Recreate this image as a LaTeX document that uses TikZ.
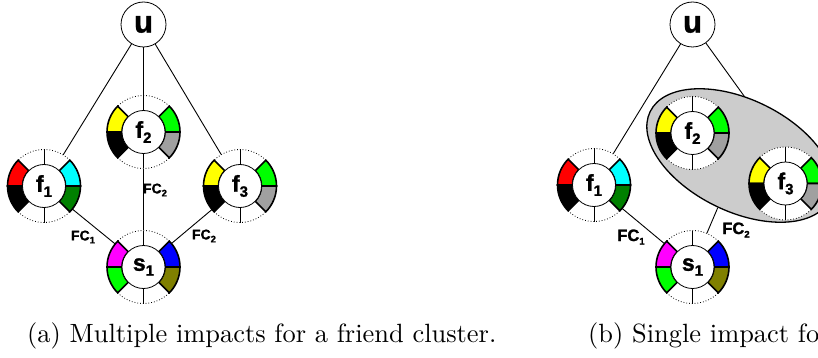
\documentclass[tikz,border=0pt]{standalone}
\usepackage{fontspec}
\usetikzlibrary{shapes.geometric}
\newfontfamily\lblfont{Liberation Sans}[BoldFeatures={FakeBold=1.3}]

\definecolor{segred}{RGB}{255,0,0}
\definecolor{segcyan}{RGB}{0,255,255}
\definecolor{segdkgreen}{RGB}{0,128,0}
\definecolor{segyellow}{RGB}{255,255,0}
\definecolor{seggreen}{RGB}{0,255,0}
\definecolor{seggray}{RGB}{160,160,160}
\definecolor{segmagenta}{RGB}{255,0,255}
\definecolor{segblue}{RGB}{0,0,255}
\definecolor{segolive}{RGB}{128,128,0}
\definecolor{clustergray}{RGB}{204,204,204}

% ring geometry (outer and inner radius)
\newcommand\ringout{36.5}
\newcommand\ringin{21.5}

\tikzset{
  edge/.style={line width=0.9pt},
  ringslot/.style={circle, minimum size=73pt, inner sep=0pt,
    font=\lblfont\bfseries\fontsize{23}{23}\selectfont},
  seg/.style={draw=black, line width=1.6pt, line join=miter},
  quiet/.style={dotted, line width=0.8pt},
  tickline/.style={line width=0.7pt},
  hub/.style={draw=black, fill=white, line width=0.8pt},
  usernode/.style={circle, draw, fill=white, line width=0.8pt, minimum size=45pt,
    inner sep=0pt, font=\lblfont\bfseries\fontsize{31}{31}\selectfont},
  fcsmall/.style={inner sep=0pt, font=\lblfont\bfseries\fontsize{14}{14}\selectfont},
  fclarge/.style={inner sep=0pt, font=\lblfont\bfseries\fontsize{16.5}{16.5}\selectfont},
  caption/.style={anchor=base west, inner sep=0pt},
}

% one coloured slot of a ring
\newcommand\ringseg[3]{%
  \filldraw[seg, fill=#3] (#1:\ringout) arc[start angle=#1, end angle=#2, radius=\ringout]
    -- (#2:\ringin) arc[start angle=#2, end angle=#1, radius=\ringin] -- cycle;}

% ring node: name, x, y, label, left-top, left-bottom, right-top, right-bottom
\newcommand\impactring[8]{%
  \begin{scope}[shift={(#2,#3)}]
    \fill[white] (45:\ringout) arc[start angle=45, end angle=135, radius=\ringout]
      -- (135:\ringin) arc[start angle=135, end angle=45, radius=\ringin] -- cycle;
    \fill[white] (225:\ringout) arc[start angle=225, end angle=315, radius=\ringout]
      -- (315:\ringin) arc[start angle=315, end angle=225, radius=\ringin] -- cycle;
    \draw[quiet] (45:\ringout) arc[start angle=45, end angle=135, radius=\ringout];
    \draw[quiet] (225:\ringout) arc[start angle=225, end angle=315, radius=\ringout];
    \draw[tickline] (90:\ringin) -- (90:\ringout) (270:\ringin) -- (270:\ringout);
    \ringseg{135}{180}{#5}
    \ringseg{180}{225}{#6}
    \ringseg{0}{45}{#7}
    \ringseg{-45}{0}{#8}
    \draw[hub] (0,0) circle[radius=\ringin];
  \end{scope}
  \node[ringslot] (#1) at (#2,#3) {#4};}

\newcommand\sublbl[2]{#1\raisebox{-5pt}{\fontsize{15}{15}\selectfont #2}}
\newcommand\fcsub[3]{#1\raisebox{-#3}{\fontsize{9.5}{9.5}\selectfont #2}}

\begin{document}
\begin{tikzpicture}[x=1pt, y=1pt]
\useasboundingbox (0,0) rectangle (818,-358);
\clip (0,0) rectangle (818,-358);

% ---------- (a) one impact per friend ----------
\node[usernode] (ua) at (143.5,-24.5) {u};
\impactring{f1a}{44}{-186}{\sublbl{f}{1}}{segred}{black}{segcyan}{segdkgreen}
\impactring{f2a}{143.5}{-132}{\sublbl{f}{2}}{segyellow}{black}{seggreen}{seggray}
\impactring{f3a}{240}{-186}{\sublbl{f}{3}}{segyellow}{black}{seggreen}{seggray}
\impactring{s1a}{143.5}{-267}{\sublbl{s}{1}}{segmagenta}{seggreen}{segblue}{segolive}

\draw[edge] (ua) -- (f1a);
\draw[edge] (ua) -- (f2a);
\draw[edge] (ua) -- (f3a);
\draw[edge] (f1a) -- (s1a);
\draw[edge] (f2a) -- (s1a);
\draw[edge] (f3a) -- (s1a);

\node[fcsmall] (fc1a) at (83,-237) {\fcsub{FC}{1}{3pt}};
\node[fcsmall] (fc2a) at (155,-190) {\fcsub{FC}{2}{3pt}};
\node[fcsmall] (fc3a) at (204,-236) {\fcsub{FC}{2}{3pt}};

% ---------- (b) one impact for the whole cluster ----------
\node[usernode] (ub) at (692.5,-24.5) {u};
\impactring{f1b}{594}{-185}{\sublbl{f}{1}}{segred}{black}{segcyan}{segdkgreen}
\impactring{s1b}{692.5}{-267}{\sublbl{s}{1}}{segmagenta}{seggreen}{segblue}{segolive}

\coordinate (uhook) at (752,-107);
\draw[edge] (ub) -- (f1b);
\draw[edge] (ub) -- (uhook);
\draw[edge] (f1b) -- (s1b);

\node[ellipse, draw, fill=clustergray, line width=1.3pt, minimum width=200pt,
  minimum height=112pt, inner sep=0pt, rotate=-26] (cluster) at (740,-155.5) {};
\draw[edge] (s1b) -- (cluster);

\impactring{f2b}{692.5}{-133}{\sublbl{f}{2}}{segyellow}{black}{seggreen}{seggray}
\impactring{f3b}{785.5}{-183.5}{\sublbl{f}{3}}{segyellow}{black}{seggreen}{seggray}

\node[fclarge] (fc1b) at (631,-237) {\fcsub{FC}{1}{3.5pt}};
\node[fclarge] (fc2b) at (736,-230) {\fcsub{FC}{2}{3.5pt}};

% ---------- captions ----------
\node[caption] (capa) at (27,-342)
  {\scalebox{2.64}{\fontsize{10}{12}\selectfont (a) Multiple impacts for a friend cluster.}};
\node[caption] (capb) at (588,-342)
  {\scalebox{2.64}{\fontsize{10}{12}\selectfont (b) Single impact for a friend cluster.}};
\end{tikzpicture}
\end{document}
